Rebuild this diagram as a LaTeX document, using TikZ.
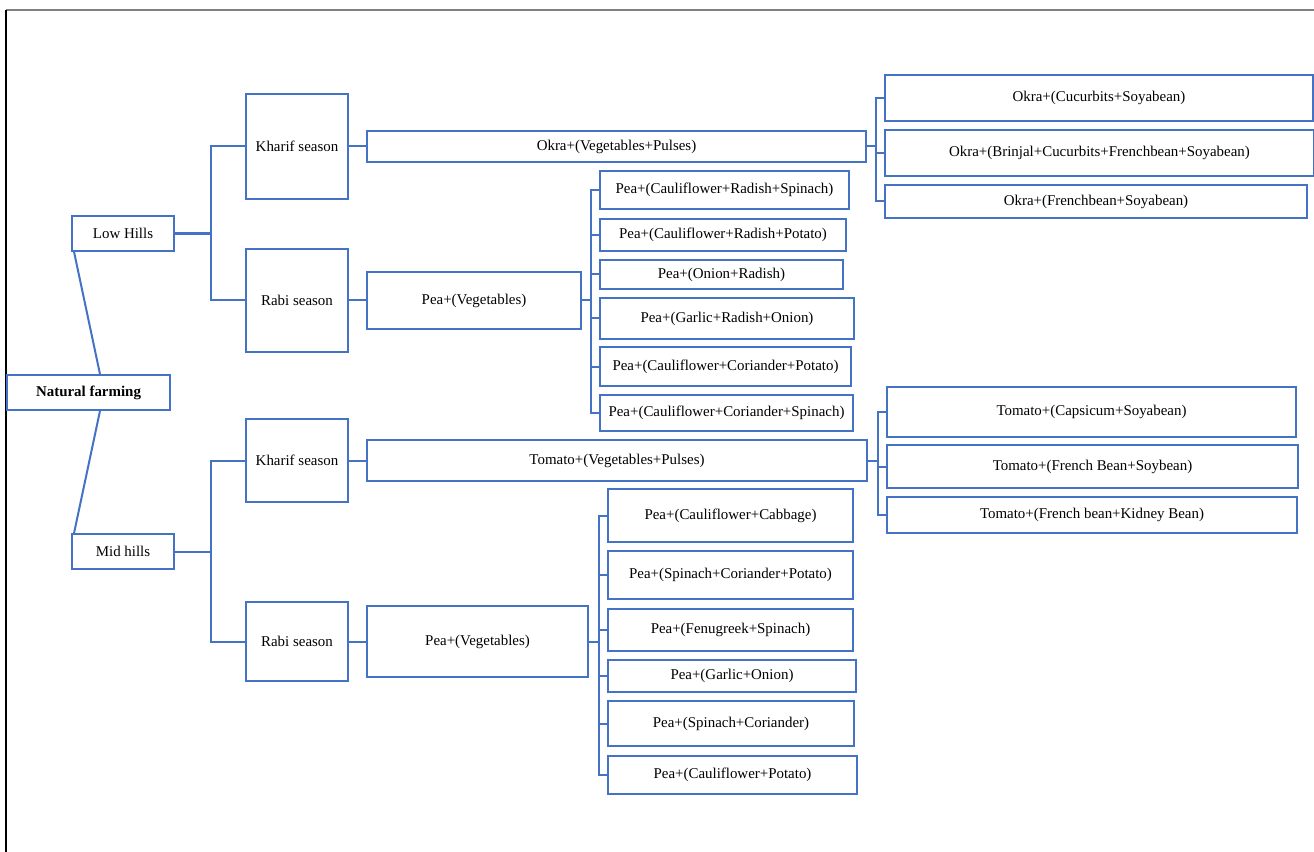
\documentclass[tikz,border=0pt]{standalone}
\usepackage{fontspec}
\setmainfont{Liberation Serif}
\usepackage{xcolor}
\definecolor{lineblue}{HTML}{4472C4}

\begin{document}
\begin{tikzpicture}[x=0.75pt,y=-0.75pt,
  font=\fontsize{11.2}{13}\selectfont,
  box/.style 2 args={draw=lineblue, line width=1.5pt, inner sep=0pt,
    minimum width=#1*0.75pt, minimum height=#2*0.75pt},
  link/.style={draw=lineblue, line width=1.5pt}]
\useasboundingbox (0,0) rectangle (1314,852);
\draw[gray, line width=1pt] (1314,10) -- (6,10);
\draw[black, line width=1pt] (6,10) -- (6,852);

% root and regions
\node (NF) at (88.5,392.5) [box={163}{35}] {\textbf{Natural farming}};
\node (LH) at (123,233.5) [box={102}{35}] {Low Hills};
\node (MH) at (123,551.5) [box={102}{35}] {Mid hills};
\draw[link] ([xshift=8.6pt]NF.north) -- ([xshift=2.3pt]LH.south west);
\draw[link] ([xshift=8.6pt]NF.south) -- ([xshift=2.3pt]MH.north west);

% seasons
\node (KLH) at (297,146.5) [box={102}{105}] {Kharif season};
\node (RLH) at (297,300.5) [box={102}{103}] {Rabi season};
\node (KMH) at (297,460.5) [box={102}{83}] {Kharif season};
\node (RMH) at (297,641.5) [box={102}{79}] {Rabi season};
\draw[link, line width=2pt] (LH.east) -- ++(36,0);
\draw[link] (LH.east) -- ++(36,0) |- (KLH.west);
\draw[link] (LH.east) -- ++(36,0) |- (RLH.west);
\draw[link] (MH.east) -- ++(36,0) |- (KMH.west);
\draw[link] (MH.east) -- ++(36,0) |- (RMH.west);

% crop groups
\node (OKRA) at (616.5,146.5) [box={499}{31}] {Okra+(Vegetables+Pulses)};
\node (PEAL) at (474,300.5) [box={214}{57}] {Pea+(Vegetables)};
\node (TOM) at (617,460.5) [box={500}{41}] {Tomato+(Vegetables+Pulses)};
\node (PEAM) at (477.5,641.5) [box={221}{71}] {Pea+(Vegetables)};
\draw[link] (KLH.east) -- (OKRA.west);
\draw[link] (RLH.east) -- (PEAL.west);
\draw[link] (KMH.east) -- (TOM.west);
\draw[link] (RMH.east) -- (PEAM.west);

% low hills, kharif
\node (O1) at (1099,98) [box={428}{46}] {Okra+(Cucurbits+Soyabean)};
\node (O2) at (1099.5,153) [box={429}{46}] {Okra+(Brinjal+Cucurbits+Frenchbean+Soyabean)};
\node (O3) at (1096,201.5) [box={422}{33}] {Okra+(Frenchbean+Soyabean)};
\foreach \i in {1,2,3}
  \draw[link] (OKRA.east) -- ++(9,0) |- (O\i.west);

% low hills, rabi
\node (PL1) at (724.5,190) [box={249}{38}] {Pea+(Cauliflower+Radish+Spinach)};
\node (PL2) at (723,235) [box={246}{32}] {Pea+(Cauliflower+Radish+Potato)};
\node (PL3) at (721.5,274.5) [box={243}{29}] {Pea+(Onion+Radish)};
\node (PL4) at (727,318.5) [box={254}{41}] {Pea+(Garlic+Radish+Onion)};
\node (PL5) at (725.5,366.5) [box={251}{39}] {Pea+(Cauliflower+Coriander+Potato)};
\node (PL6) at (726.5,413) [box={253}{36}] {Pea+(Cauliflower+Coriander+Spinach)};
\foreach \i in {1,...,6}
  \draw[link] (PEAL.east) -- ++(9,0) |- (PL\i.west);

% mid hills, kharif
\node (T1) at (1091.5,412) [box={409}{50}] {Tomato+(Capsicum+Soyabean)};
\node (T2) at (1092.5,466.5) [box={411}{43}] {Tomato+(French Bean+Soybean)};
\node (T3) at (1092,515) [box={410}{36}] {Tomato+(French bean+Kidney Bean)};
\foreach \i in {1,2,3}
  \draw[link] (TOM.east) -- ++(10,0) |- (T\i.west);

% mid hills, rabi
\node (PM1) at (730.5,515.5) [box={245}{53}] {Pea+(Cauliflower+Cabbage)};
\node (PM2) at (730.5,575) [box={245}{48}] {Pea+(Spinach+Coriander+Potato)};
\node (PM3) at (730.5,630) [box={245}{42}] {Pea+(Fenugreek+Spinach)};
\node (PM4) at (732,676) [box={248}{32}] {Pea+(Garlic+Onion)};
\node (PM5) at (731,723.5) [box={246}{45}] {Pea+(Spinach+Coriander)};
\node (PM6) at (732.5,775) [box={249}{38}] {Pea+(Cauliflower+Potato)};
\foreach \i in {1,...,6}
  \draw[link] (PEAM.east) -- ++(10,0) |- (PM\i.west);
\end{tikzpicture}
\end{document}
